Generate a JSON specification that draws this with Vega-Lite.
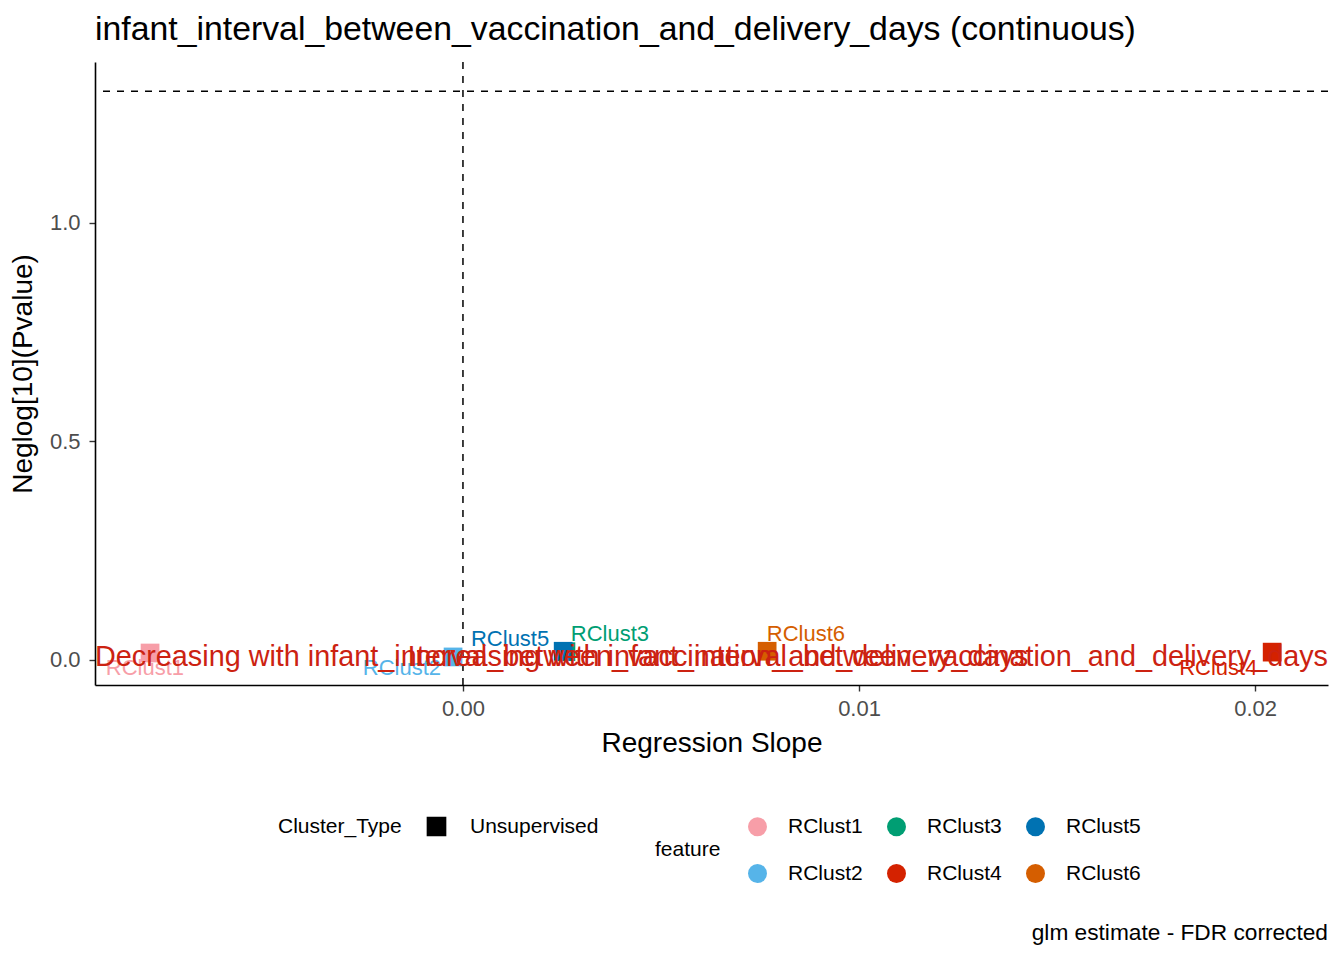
{
  "$schema": "https://vega.github.io/schema/vega-lite/v6.json",
  "width": 1233,
  "height": 623,
  "autosize": "none",
  "padding": {"left": 95, "top": 62, "right": 16, "bottom": 275},
  "background": "white",
  "config": {
    "font": "Liberation Sans",
    "view": {"stroke": null},
    "axis": {"grid": false, "domainColor": "black", "domainWidth": 1.6, "tickColor": "#333333", "tickWidth": 1.4, "tickSize": 6, "labelColor": "#4D4D4D", "labelFontSize": 22, "titleFontSize": 28, "titleFontWeight": "normal", "titleColor": "black"}
  },
  "title": {"text": "infant_interval_between_vaccination_and_delivery_days (continuous)", "anchor": "start", "frame": "group", "fontSize": 33.8, "fontWeight": "normal", "color": "black", "offset": 14},
  "datasets": {
    "points": [
      {"feature": "RClust1", "Cluster_Type": "Unsupervised", "estimate": -0.0079, "neglogp": 0.016, "label_x": -0.00803, "label_y": -0.018},
      {"feature": "RClust2", "Cluster_Type": "Unsupervised", "estimate": -0.00025, "neglogp": 0.007, "label_x": -0.00154, "label_y": -0.018},
      {"feature": "RClust3", "Cluster_Type": "Unsupervised", "estimate": 0.0026, "neglogp": 0.019, "label_x": 0.00371, "label_y": 0.0595},
      {"feature": "RClust5", "Cluster_Type": "Unsupervised", "estimate": 0.00253, "neglogp": 0.02, "label_x": 0.00119, "label_y": 0.048},
      {"feature": "RClust6", "Cluster_Type": "Unsupervised", "estimate": 0.00768, "neglogp": 0.02, "label_x": 0.00866, "label_y": 0.0595},
      {"feature": "RClust4", "Cluster_Type": "Unsupervised", "estimate": 0.02043, "neglogp": 0.018, "label_x": 0.01907, "label_y": -0.018}
    ],
    "single": [{}]
  },
  "layer": [
    {
      "data": {"name": "single"},
      "mark": {"type": "rule", "strokeDash": [7, 7], "strokeWidth": 1.5, "color": "black"},
      "encoding": {"x": {"datum": 0, "type": "quantitative"}}
    },
    {
      "data": {"name": "single"},
      "mark": {"type": "rule", "strokeDash": [7, 7], "strokeWidth": 1.5, "color": "black"},
      "encoding": {"y": {"datum": 1.30103, "type": "quantitative"}}
    },
    {
      "data": {"name": "points"},
      "mark": {"type": "point", "filled": true, "opacity": 1, "size": 350},
      "encoding": {
        "x": {"field": "estimate", "type": "quantitative", "title": "Regression Slope",
          "scale": {"domain": [-0.00929, 0.02184], "nice": false, "zero": false},
          "axis": {"values": [0, 0.01, 0.02], "format": ".2f", "labelPadding": 7, "titlePadding": 10}},
        "y": {"field": "neglogp", "type": "quantitative", "title": "Neglog[10](Pvalue)",
          "scale": {"domain": [-0.0572, 1.368], "nice": false, "zero": false},
          "axis": {"values": [0, 0.5, 1], "format": ".1f", "labelPadding": 9, "titlePadding": 12}},
        "color": {"field": "feature", "type": "nominal",
          "scale": {"domain": ["RClust1", "RClust2", "RClust3", "RClust4", "RClust5", "RClust6"],
            "range": ["#F79EA8", "#56B4E9", "#009E73", "#D42200", "#0072B2", "#D55E00"]},
          "legend": {"orient": "none", "legendX": 560, "legendY": 754, "columns": 3, "symbolType": "circle", "symbolSize": 361, "symbolStrokeWidth": 0, "titleOrient": "left", "titleAnchor": "middle", "titleBaseline": "middle", "titlePadding": 26, "labelOffset": 20, "columnPadding": 23, "rowPadding": 25, "labelFontSize": 21, "titleFontSize": 21, "titleFontWeight": "normal", "labelColor": "black", "titleColor": "black"}},
        "shape": {"field": "Cluster_Type", "type": "nominal", "scale": {"range": ["square"]},
          "legend": {"orient": "none", "legendX": 183, "legendY": 754, "symbolFillColor": "black", "symbolStrokeColor": "black", "symbolSize": 330, "titleOrient": "left", "titleBaseline": "middle", "titleAnchor": "middle", "titlePadding": 24, "labelOffset": 23, "labelFontSize": 21, "titleFontSize": 21, "titleFontWeight": "normal", "labelColor": "black", "titleColor": "black"}}
      }
    },
    {
      "data": {"name": "points"},
      "mark": {"type": "text", "fontSize": 22, "align": "center", "baseline": "middle"},
      "encoding": {
        "x": {"field": "label_x", "type": "quantitative"},
        "y": {"field": "label_y", "type": "quantitative"},
        "text": {"field": "feature"},
        "color": {"field": "feature", "type": "nominal", "legend": null}
      }
    },
    {
      "data": {"name": "single"},
      "mark": {"type": "text", "fontSize": 28.8, "align": "left", "baseline": "middle", "color": "#CC2211", "dy": -3},
      "encoding": {
        "x": {"datum": -0.00929, "type": "quantitative"},
        "y": {"datum": 0, "type": "quantitative"},
        "text": {"value": "Decreasing with infant_interval_between_vaccination_and_delivery_days"}
      }
    },
    {
      "data": {"name": "single"},
      "mark": {"type": "text", "fontSize": 28.8, "align": "right", "baseline": "middle", "color": "#CC2211", "dy": -3},
      "encoding": {
        "x": {"datum": 0.02184, "type": "quantitative"},
        "y": {"datum": 0, "type": "quantitative"},
        "text": {"value": "Increasing with infant_interval_between_vaccination_and_delivery_days"}
      }
    },
    {
      "data": {"name": "single"},
      "mark": {"type": "text", "fontSize": 22.7, "align": "right", "baseline": "middle", "color": "black", "clip": false},
      "encoding": {
        "x": {"datum": 0.02184, "type": "quantitative"},
        "y": {"datum": -0.625, "type": "quantitative"},
        "text": {"value": "glm estimate - FDR corrected"}
      }
    }
  ]
}
